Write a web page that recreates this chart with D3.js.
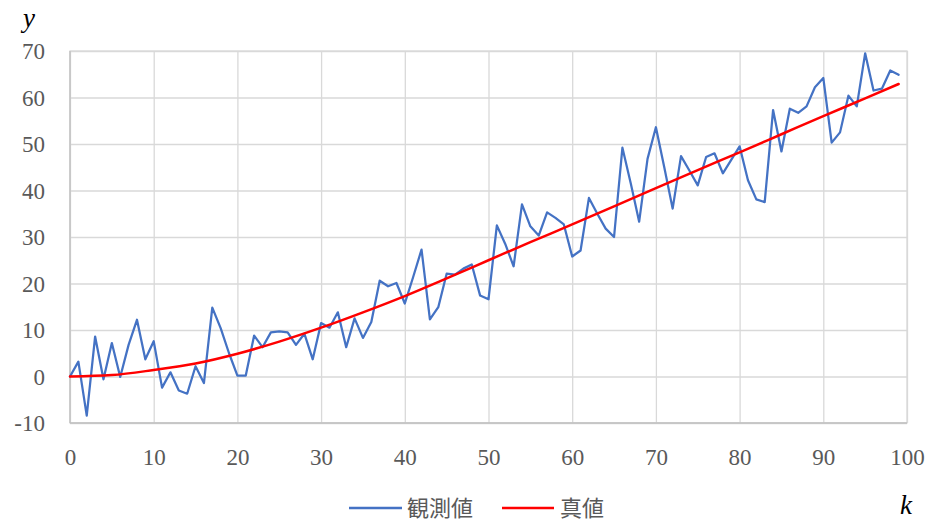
<!DOCTYPE html>
<html>
<head>
<meta charset="utf-8">
<script src="https://cdn.jsdelivr.net/npm/d3@7"></script>
<style>
  html, body { margin: 0; padding: 0; background: #fff; }
  svg { display: block; }
</style>
</head>
<body>
<svg id="chart" width="930" height="524"></svg>
<script>
// ---- data ----
const observedK = d3.range(0, 100);
const observedValues = [
  0, 3.2, -8.4, 8.6, -0.6, 7.2, -0.1, 6.8, 12.2, 3.7,
  7.6, -2.4, 0.9, -3.0, -3.7, 2.2, -1.4, 14.8, 10.4, 5.0,
  0.2, 0.2, 8.8, 6.3, 9.5, 9.7, 9.5, 6.8, 9.2, 3.7,
  11.5, 10.5, 13.8, 6.3, 12.5, 8.3, 11.7, 20.6, 19.4, 20.1,
  15.7, 21.4, 27.3, 12.3, 14.9, 22.1, 21.9, 23.2, 24.1, 17.4,
  16.6, 32.5, 28.5, 23.7, 37.0, 32.3, 30.3, 35.3, 34.1, 32.7,
  25.8, 27.1, 38.4, 35.0, 31.8, 30.0, 49.2, 41.5, 33.3, 46.8,
  53.6, 45.0, 36.1, 47.4, 44.3, 41.1, 47.2, 48.0, 43.7, 46.6,
  49.5, 42.2, 38.1, 37.5, 57.3, 48.4, 57.6, 56.7, 58.1, 62.2,
  64.2, 50.3, 52.5, 60.4, 58.1, 69.5, 61.5, 61.9, 65.8, 64.9
];
const trueK = [0, 5, 10, 15, 20, 25, 30, 35, 40, 45, 50, 55, 60, 65, 70, 75, 80, 85, 90, 95, 99];
const trueValues = [0, 0.3, 1.4, 2.8, 4.9, 7.5, 10.5, 13.8, 17.3, 21.1, 25.0, 28.9, 32.7, 36.6, 40.5, 44.4, 48.2, 52.1, 56.0, 59.8, 62.9];
const xTicks = [0, 10, 20, 30, 40, 50, 60, 70, 80, 90, 100];
const yTicks = [-10, 0, 10, 20, 30, 40, 50, 60, 70];
const seriesNames = ["観測値", "真値"];
const seriesColors = ["#4472C4", "#FF0000"];

// ---- layout ----
const pL = 70, pR = 907, pT = 51, pB = 423;
const svg = d3.select("#chart");
const x = d3.scaleLinear().domain([0, 100]).range([pL, pR]);
const y = d3.scaleLinear().domain([-10, 70]).range([pB, pT]);

const labelFont = "'Liberation Serif', 'DejaVu Serif', serif";
const labelColor = "#595959";
const plainFmt = d => String(d);

// gridlines
svg.append("g")
  .attr("transform", `translate(${pL},0)`)
  .call(d3.axisLeft(y).tickValues(yTicks).tickSize(-(pR - pL)).tickFormat(""))
  .call(g => g.select(".domain").remove())
  .call(g => g.selectAll("line").attr("stroke", "#d9d9d9").attr("stroke-width", 1.3));
svg.append("g")
  .attr("transform", `translate(0,${pB})`)
  .call(d3.axisBottom(x).tickValues(xTicks).tickSize(-(pB - pT)).tickFormat(""))
  .call(g => g.select(".domain").remove())
  .call(g => g.selectAll("line").attr("stroke", "#d9d9d9").attr("stroke-width", 1.3));

// frame
svg.append("rect")
  .attr("x", pL).attr("y", pT)
  .attr("width", pR - pL).attr("height", pB - pT)
  .attr("fill", "none").attr("stroke", "#d9d9d9").attr("stroke-width", 1.3);
svg.append("line").attr("x1", pL).attr("x2", pL).attr("y1", pT).attr("y2", pB)
  .attr("stroke", "#bfbfbf").attr("stroke-width", 1.3);
svg.append("line").attr("x1", pL).attr("x2", pR).attr("y1", pB).attr("y2", pB)
  .attr("stroke", "#bfbfbf").attr("stroke-width", 1.3);

// y tick labels
const yAx = svg.append("g")
  .attr("transform", `translate(${pL - 25},0)`)
  .call(d3.axisLeft(y).tickValues(yTicks).tickFormat(plainFmt).tickSize(0).tickPadding(0))
  .call(g => g.select(".domain").remove());
yAx.selectAll("text")
  .attr("font-family", labelFont).attr("font-size", 23).attr("fill", labelColor)
  .attr("dy", "0.34em");

// x tick labels
const xAx = svg.append("g")
  .attr("transform", `translate(0,${pB})`)
  .call(d3.axisBottom(x).tickValues(xTicks).tickFormat(plainFmt).tickSize(0).tickPadding(0))
  .call(g => g.select(".domain").remove());
xAx.selectAll("text")
  .attr("font-family", labelFont).attr("font-size", 23).attr("fill", labelColor)
  .attr("dy", "0").attr("y", 42);

// series
const obs = observedK.map((k, i) => [k, observedValues[i]]);
const tru = trueK.map((k, i) => [k, trueValues[i]]);
const line = d3.line().x(d => x(d[0])).y(d => y(d[1]));
svg.append("path").datum(obs)
  .attr("d", line)
  .attr("fill", "none").attr("stroke", seriesColors[0]).attr("stroke-width", 2.25)
  .attr("stroke-linejoin", "round").attr("stroke-linecap", "round");
svg.append("path").datum(tru)
  .attr("d", line.curve(d3.curveMonotoneX))
  .attr("fill", "none").attr("stroke", seriesColors[1]).attr("stroke-width", 2.5)
  .attr("stroke-linecap", "round");

// axis titles
svg.append("text").attr("x", 23).attr("y", 27)
  .attr("font-family", labelFont).attr("font-style", "italic").attr("font-size", 27)
  .attr("fill", "#000").text("y");
svg.append("text").attr("x", 900).attr("y", 514)
  .attr("font-family", labelFont).attr("font-style", "italic").attr("font-size", 27)
  .attr("fill", "#000").text("k");

// legend
const legend = [
  { name: seriesNames[0], color: seriesColors[0], x1: 349, x2: 402, tx: 407 },
  { name: seriesNames[1], color: seriesColors[1], x1: 502, x2: 554, tx: 560 }
];
legend.forEach(l => {
  svg.append("line").attr("x1", l.x1).attr("x2", l.x2).attr("y1", 508).attr("y2", 508)
    .attr("stroke", l.color).attr("stroke-width", 2.5);
  svg.append("text").attr("x", l.tx).attr("y", 508).attr("dy", "0.36em")
    .attr("font-family", "'Noto Sans CJK JP', 'Noto Sans CJK SC', sans-serif")
    .attr("font-size", 22).attr("fill", labelColor).text(l.name);
});
</script>
</body>
</html>
